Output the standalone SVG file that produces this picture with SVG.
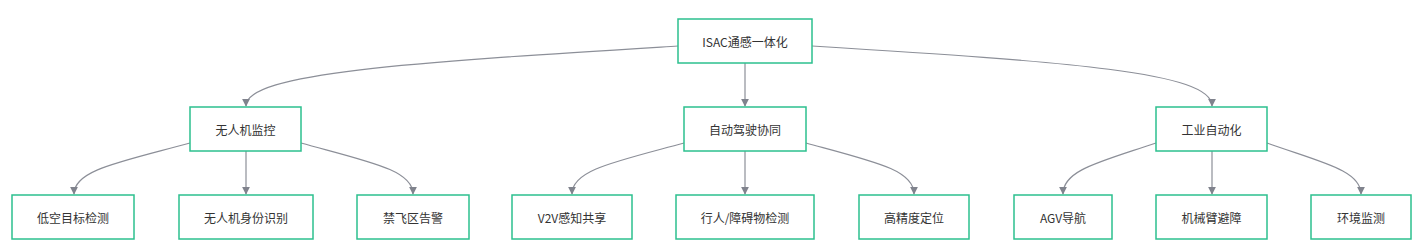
<svg xmlns="http://www.w3.org/2000/svg" width="1425" height="252" viewBox="0 0 1425 252">
<defs>
<marker id="arr" viewBox="0 0 10 10" refX="9" refY="5" markerWidth="8" markerHeight="8" markerUnits="userSpaceOnUse" orient="auto">
<path d="M0,0 L10,5 L0,10 z" fill="#80838d"/>
</marker>
<style>
.n rect{fill:#fff;stroke:#2cc08e;stroke-width:1.5}
.n text{font-family:"Noto Sans CJK SC","Liberation Sans",sans-serif;font-size:12px;fill:#333;text-anchor:middle;dominant-baseline:central}
.e path{fill:none;stroke:#8c8f98;stroke-width:1.2;marker-end:url(#arr)}
</style>
</defs>
<rect width="1425" height="252" fill="#fff"/>
<g class="e">
<path d="M678,46 C420,62 246,72 246,106"/>
<path d="M745,63 L745,106"/>
<path d="M812,46 C1070,62 1212,72 1212,106"/>
<path d="M190,143 C120,162 74,170 74,194"/>
<path d="M246,151 L246,194"/>
<path d="M301,143 C370,162 413,170 413,194"/>
<path d="M684,143 C614,162 572,170 572,194"/>
<path d="M745,151 L745,194"/>
<path d="M806,143 C876,162 914,170 914,194"/>
<path d="M1156,143 C1100,162 1063,170 1063,194"/>
<path d="M1212,151 L1212,194"/>
<path d="M1267,143 C1320,162 1361,170 1361,194"/>
</g>
<g id="root" class="n"><rect x="678" y="19" width="134" height="44"/><text x="745" y="41">ISAC通感一体化</text></g>
<g id="uav" class="n"><rect x="190" y="107" width="111" height="44"/><text x="245.5" y="129">无人机监控</text></g>
<g id="auto" class="n"><rect x="684" y="107" width="122" height="44"/><text x="745" y="129">自动驾驶协同</text></g>
<g id="ind" class="n"><rect x="1156" y="107" width="111" height="44"/><text x="1211.5" y="129">工业自动化</text></g>
<g id="a1" class="n"><rect x="12" y="195" width="122" height="44"/><text x="73" y="217">低空目标检测</text></g>
<g id="a2" class="n"><rect x="179" y="195" width="134" height="44"/><text x="246" y="217">无人机身份识别</text></g>
<g id="a3" class="n"><rect x="357" y="195" width="112" height="44"/><text x="413" y="217">禁飞区告警</text></g>
<g id="b1" class="n"><rect x="512" y="195" width="120" height="44"/><text x="572" y="217">V2V感知共享</text></g>
<g id="b2" class="n"><rect x="676" y="195" width="138" height="44"/><text x="745" y="217">行人/障碍物检测</text></g>
<g id="b3" class="n"><rect x="859" y="195" width="110" height="44"/><text x="914" y="217">高精度定位</text></g>
<g id="c1" class="n"><rect x="1014" y="195" width="98" height="44"/><text x="1063" y="217">AGV导航</text></g>
<g id="c2" class="n"><rect x="1156" y="195" width="111" height="44"/><text x="1211.5" y="217">机械臂避障</text></g>
<g id="c3" class="n"><rect x="1311" y="195" width="100" height="44"/><text x="1361" y="217">环境监测</text></g>
</svg>
